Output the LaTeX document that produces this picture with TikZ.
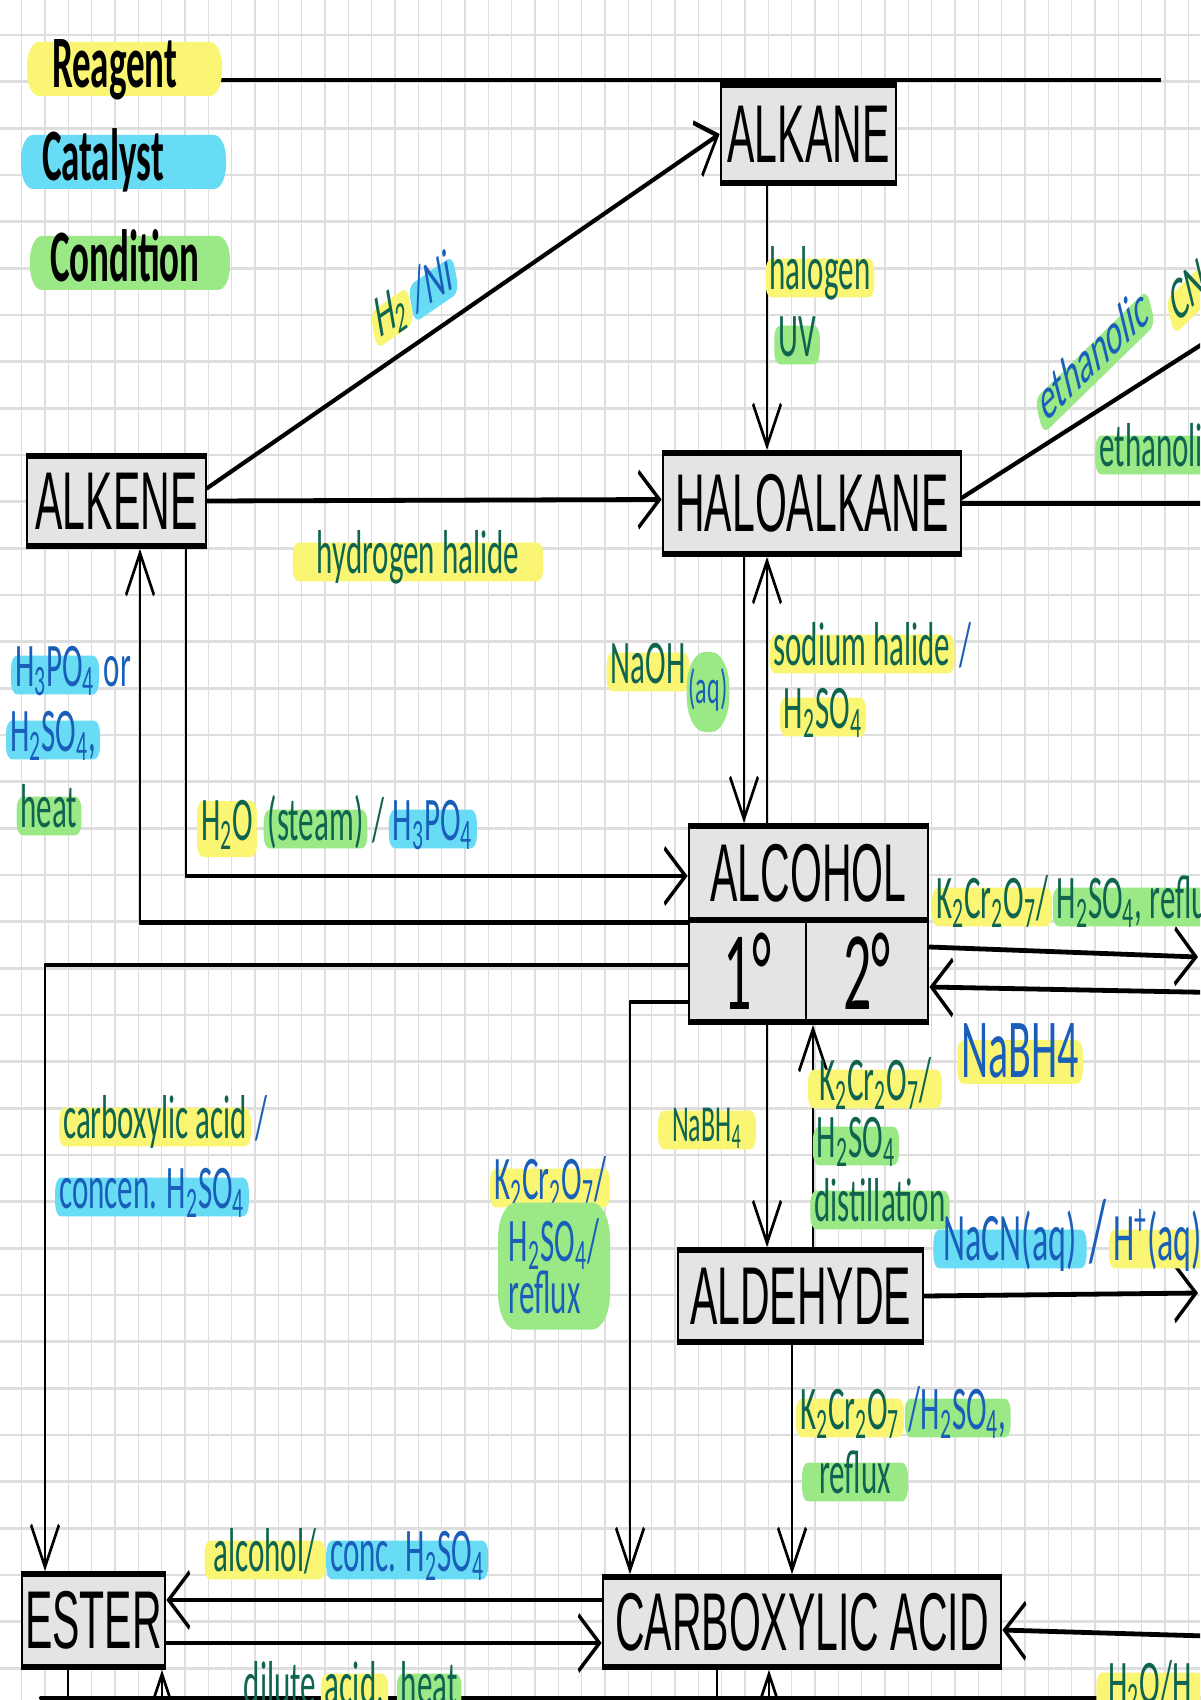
\documentclass[tikz,border=0pt]{standalone}
\usepackage{fontspec}
\setmainfont{Liberation Sans}
\newfontfamily\handfont{Carlito}
\usepackage{xcolor}
\usetikzlibrary{arrows.meta}
\usetikzlibrary{positioning,calc}

\definecolor{hlyellow}{RGB}{250,245,115}
\definecolor{hlcyan}{RGB}{105,220,245}
\definecolor{hlgreen}{RGB}{155,232,135}
\definecolor{inkgreen}{RGB}{15,100,80}
\definecolor{inkblue}{RGB}{25,95,185}
\definecolor{boxgray}{RGB}{228,228,228}
\definecolor{gridgray}{RGB}{222,222,222}

\newcommand{\chsub}[1]{\textsubscript{#1}}
\newcommand{\labsize}{\handfont\fontsize{15.5}{17}\selectfont}

\tikzset{
  box/.style = {draw, line width=1.4pt, fill=boxgray, inner sep=0pt, font=\fontsize{20.5}{24}\selectfont},
  deg/.style = {box, font=\handfont\fontsize{28}{30}\selectfont},
  note/.style = {font=\labsize, text=inkgreen, inner xsep=2pt, inner ysep=1.2pt, rounded corners=3pt},
  lab/.style = {note, text height=6.5pt, text depth=0.8pt},
  rea/.style = {lab, fill=hlyellow},
  cat/.style = {lab, fill=hlcyan},
  cond/.style = {lab, fill=hlgreen},
  ink/.style = {text=inkblue},
  keybox/.style = {rounded corners=6pt, inner ysep=0.5pt, text height=11pt, text depth=1.5pt, align=left, font=\handfont\bfseries\fontsize{18.5}{20}\selectfont},
  conn/.style = {line width=1.2pt, line cap=round, line join=round, -{Straight Barb[length=10.5pt,width=14pt]}},
  wire/.style = {line width=1.2pt, line cap=round},
  gridline/.style = {line width=0.7pt, gridgray}
}

\begin{document}
\begin{tikzpicture}[x=0.5pt, y=-0.5pt]
\useasboundingbox (0,0) rectangle (1200,1700);
\clip (0,0) rectangle (1200,1700);
\fill[white] (0,0) rectangle (1200,1700);
\begin{scope}[x=0.5pt, y=-0.25pt, transform canvas={yscale=2}]
% squared paper
\foreach \gx in {0,...,50}
  \draw[gridline] ({21.7+23.333*\gx},0) -- ++(0,1700);
\foreach \gy in {0,...,35}
  \draw[gridline] (0,{35+46.667*\gy}) -- ++(1200,0);
\draw[line width=0.9pt] (38,80) -- (1161,80);
\draw[wire] (40,1698) -- (1240,1698);

% legend
\node[keybox, fill=hlyellow, inner xsep=12.5pt, text width=72.5pt] (reagent) at (124.5,69) {Reagent};
\node[keybox, fill=hlcyan, inner xsep=10.5pt, text width=81.5pt] (catalyst) at (123.5,162) {Catalyst};
\node[keybox, fill=hlgreen, inner xsep=10pt, text width=80pt] (condition) at (130,263) {Condition};

% compounds
\node[box, minimum width=87.5pt, minimum height=24.5pt] (alkane) at (808.5,134) {ALKANE};
\node[box, minimum width=89.5pt, minimum height=22.5pt] (alkene) at (116.5,501) {ALKENE};
\node[box, minimum width=149pt, minimum height=25.25pt] (haloalkane) at (812,503.5) {HALOALKANE};
\node[box, minimum width=119.5pt, minimum height=23.5pt] (alcohol) at (808.5,873) {ALCOHOL};
\node[deg, minimum width=58.5pt, minimum height=25.5pt] (deg1) at (747.5,971) {1°};
\node[deg, minimum width=61pt, minimum height=25.5pt] (deg2) at (867,971) {2°};
\node[box, minimum width=122.5pt, minimum height=23pt] (aldehyde) at (800.5,1296) {ALDEHYDE};
\node[box, minimum width=199pt, minimum height=22.5pt] (acid) at (802,1622) {CARBOXYLIC ACID};
\node[box, minimum width=71.5pt, minimum height=23.25pt] (ester) at (93.5,1620.5) {ESTER};

% columns, rows and ends off the page
\coordinate (colA) at (767,0);
\coordinate (colB) at (744,0);
\coordinate (colC) at (186,0);
\coordinate (colD) at (140,0);
\coordinate (colE) at (45,0);
\coordinate (colF) at (630,0);
\coordinate (colG) at (813,0);
\coordinate (colH) at (792,0);
\coordinate (colI) at (68,0);
\coordinate (colJ) at (162,0);
\coordinate (colK) at (717,0);
\coordinate (colL) at (769,0);
\coordinate (rowA) at (0,1600);
\coordinate (rowB) at (0,1643);
\coordinate (rowC) at (0,1740);
\coordinate (offR) at (1240,0);
\coordinate (nitrile) at (1240,320);
\coordinate (ketoneOut) at (1198,957);
\coordinate (ketoneIn) at (1240,993);
\coordinate (hydroxyOut) at (1198,1293);
\coordinate (acidIn) at (1240,1637);

% reactions
\draw[conn] ($(alkene.east)+(0,-13)$) -- (alkane.west);
\draw[conn] (alkane.south -| colA) -- (haloalkane.north -| colA);
\draw[conn] (alkene.east) -- ($(haloalkane.west)+(0,-4)$);
\draw[conn] ($(haloalkane.east)+(0,-6)$) -- (nitrile);
\draw[conn] (haloalkane.east) -- (haloalkane.east -| offR);
\draw[conn] (haloalkane.south -| colB) -- (alcohol.north -| colB);
\draw[conn] (alcohol.north -| colA) -- (haloalkane.south -| colA);
\draw[conn] (alkene.south -| colC) |- ($(alcohol.west)+(0,3)$);
\draw[conn] (alcohol.south west) -| (alkene.south -| colD);
\draw[conn] ($(deg1.west)+(0,-6)$) -| (ester.north -| colE);
\draw[conn] ($(deg1.west)+(0,31)$) -| (acid.north -| colF);
\draw[conn] (deg1.south -| colA) -- (aldehyde.north -| colA);
\draw[conn] (aldehyde.north -| colG) -- (deg2.south -| colG);
\draw[conn] ($(deg2.east)+(0,-24)$) -- (ketoneOut);
\draw[conn] (ketoneIn) -- ($(deg2.east)+(0,16)$);
\draw[conn] (aldehyde.east) -- (hydroxyOut);
\draw[conn] (aldehyde.south -| colH) -- (acid.north -| colH);
\draw[conn] (acid.west |- rowA) -- (ester.east |- rowA);
\draw[conn] (ester.east |- rowB) -- (acid.west |- rowB);
\draw[conn] (acidIn) -- ($(acid.east)+(0,8)$);
\draw[wire] (ester.south -| colI) -- (colI |- rowC);
\draw[conn] (colJ |- rowC) -- (ester.south -| colJ);
\draw[wire] (acid.south -| colK) -- (colK |- rowC);
\draw[conn] (colL |- rowC) -- (acid.south -| colL);

% reagents, catalysts and conditions
\node[rea, rotate=19] (hyd) at (392,318) {H\chsub{2}};
\node[cat, ink, rotate=19, anchor=west] (nickel) at (hyd.east) {/Ni};
\node[rea] (halogen) at (820,278) {halogen};
\node[cond] (uv) at (797,345) {UV};
\node[rea, inner xsep=12pt] (hhalide) at (418,562) {hydrogen halide};
\node[cond, ink, rotate=26] (ethA) at (1095,362) {ethanolic};
\node[rea, rotate=26] (cyanide) at (1190,298) {CN};
\node[cond, anchor=west] (ethB) at (1095,455) {ethanolic};
\node[rea] (naoh) at (648,672) {NaOH};
\node[cond, ink, font=\handfont\fontsize{12}{14}\selectfont, minimum height=20pt, rounded corners=9pt, inner xsep=1pt] (aq) at (708,692) {(aq)};
\node[rea] (nahal) at (862,654) {sodium halide};
\node[lab, ink, right=0pt of nahal] (nahalB) {/};
\node[rea] (sulfA) at (823,717) {H\chsub{2}SO\chsub{4}};
\node[cat, ink] (phosA) at (55,675) {H\chsub{3}PO\chsub{4}};
\node[lab, ink, right=0pt of phosA] (phosB) {or};
\node[cat, ink] (sulfB) at (53,740) {H\chsub{2}SO\chsub{4},};
\node[cond] (heat) at (49,816) {heat};
\node[rea, minimum height=14pt] (steamA) at (227,829) {H\chsub{2}O};
\node[cond, right=3pt of steamA] (steamB) {(steam)};
\node[lab, right=0pt of steamB] (steamC) {/};
\node[cat, ink, right=0pt of steamC] (steamD) {H\chsub{3}PO\chsub{4}};
\node[rea] (ketoA) at (992,907) {K\chsub{2}Cr\chsub{2}O\chsub{7}/};
\node[cond, right=0pt of ketoA] (ketoB) {H\chsub{2}SO\chsub{4}, reflux};
\node[rea, ink, font=\handfont\fontsize{21}{24}\selectfont, text height=8pt, text depth=0.5pt] (borohA) at (1020,1062) {NaBH4};
\node[rea] (carbA) at (155,1127) {carboxylic acid};
\node[lab, ink, right=0pt of carbA] (carbB) {/};
\node[cat, ink] (carbC) at (152,1197) {concen. H\chsub{2}SO\chsub{4}};
\node[rea, ink] (oxiA) at (550,1188) {K\chsub{2}Cr\chsub{2}O\chsub{7}/};
\node[note, ink, fill=hlgreen, align=left, minimum width=56pt, minimum height=31.75pt, rounded corners=9pt] (oxiB) at (554,1266) {H\chsub{2}SO\chsub{4}/\\[-4pt]reflux};
\node[rea, font=\handfont\fontsize{13}{15}\selectfont, inner xsep=7pt] (borohB) at (707,1130) {NaBH\chsub{4}};
\node[rea, inner xsep=5.5pt] (distA) at (875,1089) {K\chsub{2}Cr\chsub{2}O\chsub{7}/};
\node[cond] (distB) at (856,1146) {H\chsub{2}SO\chsub{4}};
\node[cond] (distC) at (880,1210) {distillation};
\node[cat, ink, font=\handfont\fontsize{17}{19}\selectfont, inner xsep=5pt] (cyanA) at (1010,1249) {NaCN(aq)};
\node[lab, ink, font=\handfont\fontsize{22}{24}\selectfont, inner xsep=1pt, right=0pt of cyanA] (cyanB) {/};
\node[rea, ink, font=\handfont\fontsize{17}{19}\selectfont, right=0pt of cyanB] (cyanC) {H\textsuperscript{+}(aq)};
\node[rea] (aldoxA) at (850,1418) {K\chsub{2}Cr\chsub{2}O\chsub{7}};
\node[cond, ink, right=0pt of aldoxA] (aldoxB) {/H\chsub{2}SO\chsub{4},};
\node[cond, inner xsep=8.5pt] (aldoxC) at (855,1482) {reflux};
\node[rea, inner xsep=4.5pt] (esterA) at (265,1560) {alcohol/};
\node[cat, ink, right=0pt of esterA] (esterB) {conc. H\chsub{2}SO\chsub{4}};
\node[lab] (dilA) at (280,1693) {dilute};
\node[rea, right=0pt of dilA] (dilB) {acid,};
\node[cond, right=4pt of dilB] (dilC) {heat};
\node[rea, anchor=west, inner xsep=6pt] (nitrA) at (1096,1692) {H\chsub{2}O/H};
\end{scope}
\end{tikzpicture}
\end{document}
